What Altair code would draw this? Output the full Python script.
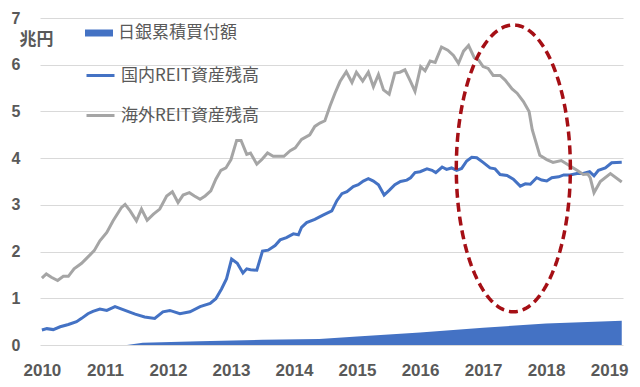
import altair as alt
import numpy as np
import pandas as pd

S_BOJ = "日銀累積買付額"
S_DOM = "国内REIT資産残高"
S_FOR = "海外REIT資産残高"

# 日銀累積買付額 (兆円)
boj_t = [2011.35, 2011.60, 2012.50, 2013.50, 2014.40, 2015.00, 2016.00, 2017.00, 2018.00, 2019.20]
boj_v = [0.00, 0.05, 0.08, 0.11, 0.13, 0.18, 0.27, 0.37, 0.46, 0.52]

# 国内REIT資産残高 (兆円)
dom_t = [2010.00, 2010.08, 2010.18, 2010.29, 2010.42, 2010.55, 2010.63, 2010.73, 2010.81, 2010.92,
         2011.03, 2011.16, 2011.32, 2011.48, 2011.63, 2011.79, 2011.92, 2012.03, 2012.19, 2012.35,
         2012.51, 2012.67, 2012.76, 2012.85, 2012.93, 2013.01, 2013.10, 2013.19, 2013.25, 2013.31,
         2013.41, 2013.50, 2013.59, 2013.70, 2013.78, 2013.88, 2013.99, 2014.07, 2014.12, 2014.20,
         2014.33, 2014.46, 2014.60, 2014.68, 2014.76, 2014.84, 2014.94, 2015.02, 2015.10, 2015.18,
         2015.26, 2015.34, 2015.43, 2015.51, 2015.60, 2015.69, 2015.79, 2015.85, 2015.92, 2016.00,
         2016.11, 2016.19, 2016.25, 2016.35, 2016.42, 2016.50, 2016.58, 2016.66, 2016.74, 2016.82,
         2016.90, 2017.00, 2017.11, 2017.19, 2017.27, 2017.38, 2017.48, 2017.59, 2017.67, 2017.75,
         2017.85, 2017.93, 2018.01, 2018.09, 2018.20, 2018.28, 2018.38, 2018.49, 2018.59, 2018.69,
         2018.76, 2018.83, 2018.94, 2019.04, 2019.20]
dom_v = [0.32, 0.35, 0.33, 0.39, 0.44, 0.50, 0.57, 0.67, 0.72, 0.77,
         0.74, 0.82, 0.74, 0.66, 0.60, 0.57, 0.71, 0.74, 0.67, 0.71,
         0.82, 0.89, 0.99, 1.20, 1.42, 1.84, 1.75, 1.54, 1.63, 1.61,
         1.60, 2.01, 2.03, 2.13, 2.25, 2.30, 2.38, 2.36, 2.52, 2.62,
         2.69, 2.78, 2.87, 3.09, 3.24, 3.28, 3.39, 3.43, 3.51, 3.56,
         3.51, 3.43, 3.21, 3.31, 3.43, 3.50, 3.53, 3.58, 3.69, 3.71,
         3.77, 3.74, 3.69, 3.81, 3.76, 3.79, 3.74, 3.78, 3.94, 4.02,
         4.01, 3.91, 3.79, 3.77, 3.65, 3.63, 3.55, 3.40, 3.45, 3.44,
         3.58, 3.53, 3.51, 3.58, 3.60, 3.64, 3.64, 3.67, 3.67, 3.71,
         3.62, 3.74, 3.79, 3.90, 3.91]

# 海外REIT資産残高 (兆円)
for_t = [2010.00, 2010.07, 2010.15, 2010.25, 2010.34, 2010.42, 2010.51, 2010.63, 2010.72, 2010.83,
         2010.92, 2011.03, 2011.13, 2011.26, 2011.32, 2011.40, 2011.50, 2011.58, 2011.67, 2011.77,
         2011.87, 2011.98, 2012.07, 2012.16, 2012.24, 2012.34, 2012.42, 2012.51, 2012.59, 2012.68,
         2012.76, 2012.84, 2012.92, 2013.00, 2013.09, 2013.16, 2013.25, 2013.31, 2013.41, 2013.49,
         2013.58, 2013.67, 2013.84, 2013.94, 2014.02, 2014.12, 2014.25, 2014.33, 2014.41, 2014.49,
         2014.57, 2014.65, 2014.73, 2014.83, 2014.92, 2014.99, 2015.09, 2015.18, 2015.26, 2015.34,
         2015.42, 2015.51, 2015.60, 2015.68, 2015.76, 2015.85, 2015.92, 2016.01, 2016.08, 2016.16,
         2016.24, 2016.34, 2016.44, 2016.53, 2016.61, 2016.69, 2016.77, 2016.86, 2016.93, 2017.00,
         2017.08, 2017.16, 2017.27, 2017.35, 2017.46, 2017.54, 2017.64, 2017.73, 2017.78, 2017.90,
         2018.01, 2018.11, 2018.24, 2018.38, 2018.49, 2018.59, 2018.66, 2018.70, 2018.76, 2018.86,
         2019.02, 2019.20]
for_v = [1.43, 1.52, 1.45, 1.38, 1.47, 1.47, 1.63, 1.75, 1.87, 2.02,
         2.23, 2.41, 2.66, 2.94, 3.01, 2.87, 2.66, 2.91, 2.67, 2.80,
         2.91, 3.19, 3.28, 3.05, 3.21, 3.26, 3.19, 3.12, 3.19, 3.30,
         3.55, 3.74, 3.79, 3.97, 4.38, 4.38, 4.08, 4.11, 3.87, 3.97,
         4.11, 4.04, 4.04, 4.16, 4.22, 4.40, 4.50, 4.68, 4.75, 4.80,
         5.11, 5.39, 5.64, 5.85, 5.62, 5.84, 5.65, 5.84, 5.53, 5.79,
         5.46, 5.37, 5.82, 5.84, 5.89, 5.64, 5.43, 5.96, 5.87, 6.08,
         6.05, 6.38, 6.31, 6.20, 6.03, 6.29, 6.41, 6.15, 6.10, 5.96,
         5.92, 5.77, 5.77, 5.67, 5.48, 5.39, 5.21, 5.00, 4.61, 4.06,
         3.97, 3.91, 3.95, 3.83, 3.74, 3.65, 3.66, 3.58, 3.26, 3.50,
         3.67, 3.49]

# highlight ellipse (annotation): centre and radii in data units
ell_center = (2017.48, 3.78)
ell_radius = (0.905, 3.07)

area_df = pd.DataFrame({"t": boj_t, "v": boj_v, "s": S_BOJ})
line_df = pd.concat([
    pd.DataFrame({"t": dom_t, "v": dom_v, "s": S_DOM}),
    pd.DataFrame({"t": for_t, "v": for_v, "s": S_FOR}),
])
ang = np.linspace(0, 2 * np.pi, 145)
ell_df = pd.DataFrame({
    "t": ell_center[0] + ell_radius[0] * np.cos(ang),
    "v": ell_center[1] + ell_radius[1] * np.sin(ang),
    "o": np.arange(len(ang)),
})

FONT = "Noto Sans CJK JP"
NUMFONT = "Liberation Sans"
TXT = "#595959"

xscale = alt.Scale(domain=[2009.97, 2019.22], nice=False, zero=False)
yscale = alt.Scale(domain=[0, 7], nice=False)

xaxis = alt.Axis(values=list(range(2010, 2020)), format="d", title=None, grid=False,
                 ticks=False, domain=False, labelFlush=False, labelOverlap=False,
                 labelPadding=17, labelFontSize=17, labelFontWeight="bold",
                 labelColor=TXT, labelFont=NUMFONT)
yaxis = alt.Axis(values=list(range(8)), format="d", title="兆円", grid=True,
                 gridColor="#D9D9D9", gridWidth=1, ticks=False, domain=False,
                 labelPadding=20, labelFontSize=16, labelFontWeight="bold",
                 labelColor=TXT, labelFont=NUMFONT,
                 titleAngle=0, titleX=-4, titleY=21, titleAlign="center",
                 titleBaseline="middle", titleFontSize=17, titleFontWeight="bold",
                 titleColor=TXT, titleFont=FONT)

area = alt.Chart(area_df).mark_area(interpolate="linear").encode(
    x=alt.X("t:Q", scale=xscale, axis=xaxis),
    y=alt.Y("v:Q", scale=yscale, axis=yaxis),
    fill=alt.Fill("s:N", scale=alt.Scale(domain=[S_BOJ], range=["#4472C4"]),
                  legend=alt.Legend(title=None, orient="none", legendX=45, legendY=1,
                                    symbolType="M-1,-0.25L1,-0.25L1,0.25L-1,0.25Z",
                                    symbolSize=784, symbolStrokeWidth=0,
                                    labelFontSize=17, labelFont=FONT, labelColor=TXT,
                                    labelOffset=5, padding=0)),
)

lines = alt.Chart(line_df).mark_line(strokeWidth=3, interpolate="linear").encode(
    x=alt.X("t:Q", scale=xscale),
    y=alt.Y("v:Q", scale=yscale),
    stroke=alt.Stroke("s:N", scale=alt.Scale(domain=[S_DOM, S_FOR], range=["#4472C4", "#A5A5A5"]),
                      legend=alt.Legend(title=None, orient="none", legendX=45, legendY=42,
                                        symbolType="stroke", symbolSize=784,
                                        symbolStrokeWidth=3, rowPadding=16,
                                        labelFontSize=17, labelFont=FONT, labelColor=TXT,
                                        labelOffset=5, padding=0)),
    detail="s:N",
)

ellipse = alt.Chart(ell_df).mark_line(color="#A50F15", strokeWidth=3.5,
                                      strokeDash=[9, 5]).encode(
    x=alt.X("t:Q", scale=xscale),
    y=alt.Y("v:Q", scale=yscale),
    order="o:Q",
)

chart = alt.layer(area, lines, ellipse).properties(
    width=583, height=327,
    autosize=alt.AutoSizeParams(type="none"),
    padding={"left": 32, "top": 10, "right": 9, "bottom": 34},
).configure_view(stroke=None).resolve_scale(fill="independent", stroke="independent")

chart.save("out.html", embed_options={"renderer": "svg", "actions": False})
